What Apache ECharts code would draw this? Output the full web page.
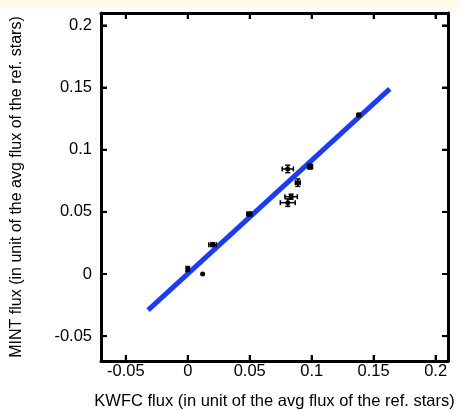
<!DOCTYPE html>
<html><head><meta charset="utf-8">
<script src="https://cdn.jsdelivr.net/npm/echarts@6/dist/echarts.min.js"></script>
<style>
html,body{margin:0;padding:0;background:#fff;}
#band{position:absolute;left:0;top:0;width:460px;height:7px;background:#fffbe6;z-index:2;}
#c{position:absolute;left:0;top:0;width:460px;height:410px;}
</style></head>
<body>
<div id="c"></div><div id="band"></div>
<script>
// KWFC flux (x) vs MINT flux (y), with error bars
const kwfc  = [0.000, 0.012, 0.020, 0.0497, 0.0807, 0.0987, 0.0888, 0.0834, 0.0807, 0.138];
const mint  = [0.004, 0.000, 0.0236, 0.0483, 0.0845, 0.0864, 0.0735, 0.0622, 0.0574, 0.128];
const kwfcErr = [0.001, 0, 0.003, 0.002, 0.0045, 0.002, 0.002, 0.005, 0.006, 0.001];
const mintErr = [0.002, 0, 0.0015, 0.0015, 0.003, 0.002, 0.003, 0.002, 0.003, 0.001];
// fitted line endpoints
const fitX = [-0.032, 0.163];
const fitY = [-0.029, 0.149];
const tickValues = [-0.05, 0, 0.05, 0.1, 0.15, 0.2];
const axisMin = -0.07, axisMax = 0.21;

const font = 'Liberation Sans, Arial, sans-serif';
const chart = echarts.init(document.getElementById('c'), null, {renderer:'canvas'});
function fmt(v){ return String(Math.round(v*100)/100); }
const baseAxis = (pos, labels, gi) => ({
  type:'value', min:axisMin, max:axisMax, position:pos, gridIndex:gi,
  axisLine:{show:true, onZero:false, lineStyle:{color:'#000', width:3}}, splitLine:{show:false},
  axisTick:{show:true, inside:true, length:6, lineStyle:{color:'#000', width:2}, customValues:tickValues},
  axisLabel:{show:labels, customValues:tickValues, formatter:fmt, color:'#000', fontSize:16.5, fontFamily:font, margin:2}
});
const xa = baseAxis('bottom', true, 0);
xa.name = 'KWFC flux (in unit of the avg flux of the ref. stars)';
xa.nameLocation = 'middle'; xa.nameGap = 32;
xa.nameTextStyle = {color:'#000', fontSize:16.5, fontFamily:font};
const ya = baseAxis('left', true, 0);
ya.axisLabel.margin = 9;
ya.name = 'MINT flux (in unit of the avg flux of the ref. stars)';
ya.nameLocation = 'middle'; ya.nameGap = 76;
ya.nameTextStyle = {color:'#000', fontSize:16, fontFamily:font};
const xTop = baseAxis('top', false, 1);
const yRight = baseAxis('right', false, 1);

const pts = kwfc.map((x,i)=>[x, mint[i], kwfcErr[i], mintErr[i]]);

chart.setOption({
  animation:false,
  grid:[{left:101, right:12, top:13, bottom:49, show:false, outerBoundsMode:'none'},
        {left:101, right:12, top:13, bottom:49, show:false, outerBoundsMode:'none'}],
  xAxis:[xa, xTop],
  yAxis:[ya, yRight],
  series:[
    {type:'line', xAxisIndex:0, yAxisIndex:0, data:fitX.map((x,i)=>[x, fitY[i]]), symbol:'none',
     lineStyle:{color:'#1a3cfa', width:5}, z:3},
    {type:'custom', xAxisIndex:0, yAxisIndex:0, data:pts, z:4,
     renderItem:function(params, api){
       const x=api.value(0), y=api.value(1), ex=api.value(2), ey=api.value(3);
       const c=api.coord([x,y]);
       const l=api.coord([x-ex,y]), r=api.coord([x+ex,y]);
       const t=api.coord([x,y+ey]), b=api.coord([x,y-ey]);
       const st={stroke:'#000', lineWidth:1.5};
       const cap=2.5;
       const children=[];
       if(ex>0){
         children.push({type:'line', shape:{x1:l[0],y1:l[1],x2:r[0],y2:r[1]}, style:st});
         children.push({type:'line', shape:{x1:l[0],y1:l[1]-cap,x2:l[0],y2:l[1]+cap}, style:st});
         children.push({type:'line', shape:{x1:r[0],y1:r[1]-cap,x2:r[0],y2:r[1]+cap}, style:st});
       }
       if(ey>0){
         children.push({type:'line', shape:{x1:t[0],y1:t[1],x2:b[0],y2:b[1]}, style:st});
         children.push({type:'line', shape:{x1:t[0]-cap,y1:t[1],x2:t[0]+cap,y2:t[1]}, style:st});
         children.push({type:'line', shape:{x1:b[0]-cap,y1:b[1],x2:b[0]+cap,y2:b[1]}, style:st});
       }
       children.push({type:'circle', shape:{cx:c[0], cy:c[1], r:2.5}, style:{fill:'#000'}});
       return {type:'group', children:children};
     }},
    // inward tick marks on all four sides, positioned through the axes' scales
    {type:'custom', xAxisIndex:0, yAxisIndex:0, z:5, silent:true,
     data:tickValues.map(v=>[v, v]),
     renderItem:function(params, api){
       const cs=params.coordSys;
       const L=cs.x, R=cs.x+cs.width, T=cs.y, B=cs.y+cs.height;
       const v=api.value(0);
       const px=api.coord([v, axisMin])[0];
       const py=api.coord([axisMin, v])[1];
       const len=6, st={stroke:'#000', lineWidth:2};
       return {type:'group', children:[
         {type:'line', shape:{x1:px,y1:B,x2:px,y2:B-len}, style:st},
         {type:'line', shape:{x1:px,y1:T,x2:px,y2:T+len}, style:st},
         {type:'line', shape:{x1:L,y1:py,x2:L+len,y2:py}, style:st},
         {type:'line', shape:{x1:R,y1:py,x2:R-len,y2:py}, style:st}
       ]};
     }},
    {type:'scatter', xAxisIndex:1, yAxisIndex:1, data:[], silent:true}
  ]
});
</script>
</body></html>
